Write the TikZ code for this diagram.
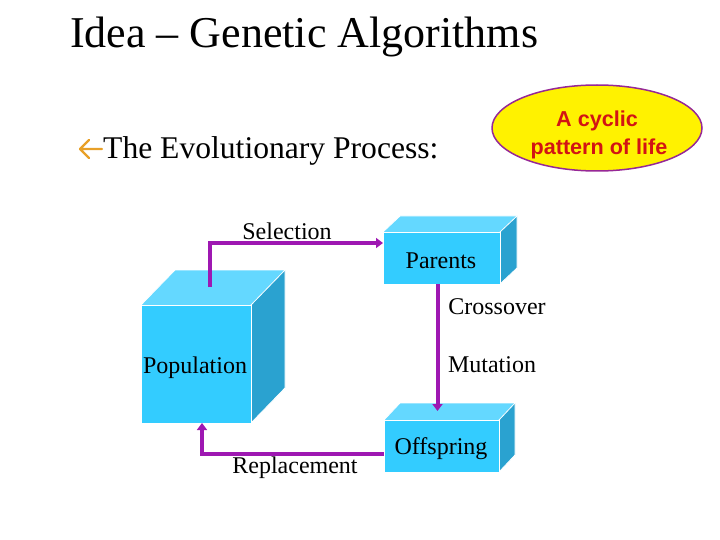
\documentclass[tikz,border=0pt]{standalone}
\usepackage{fontspec}
\setmainfont{Liberation Serif}
\newfontfamily\arialfont{Liberation Sans}
\usetikzlibrary{arrows.meta,shapes.geometric,calc}
\definecolor{frontc}{RGB}{51,204,255}
\definecolor{topc}{RGB}{100,216,255}
\definecolor{sidec}{RGB}{42,162,208}
\definecolor{connc}{RGB}{158,24,178}
\definecolor{bulc}{RGB}{232,160,40}
\definecolor{ellb}{RGB}{150,40,150}
\definecolor{elltxt}{RGB}{210,20,20}
\newcommand{\cubebox}[6]{% x1 y1 x2 y2 dx dy
  \fill[topc] (#1,#2) -- (#1+#5,#2-#6) -- (#3+#5,#2-#6) -- (#3,#2) -- cycle;
  \fill[sidec] (#3,#2) -- (#3+#5,#2-#6) -- (#3+#5,#4-#6) -- (#3,#4) -- cycle;
  \draw[white,line width=0.8pt] (#1,#2) -- (#1+#5,#2-#6) -- (#3+#5,#2-#6) -- (#3+#5,#4-#6) -- (#3,#4);
  \draw[white,line width=0.8pt] (#3,#2) -- (#3+#5,#2-#6);
}
\tikzset{
  front/.style={fill=frontc,draw=white,line width=0.8pt,inner sep=0pt,outer sep=0pt},
  lbl/.style={anchor=base,inner sep=0pt,font=\fontsize{24}{28}\selectfont},
  conn/.style={draw=connc,line width=4pt,-{Triangle[length=7pt,width=10pt]}},
}
\begin{document}
\begin{tikzpicture}[x=1pt,y=-1pt]
\useasboundingbox (0,0) rectangle (720,540);
% title
\node[anchor=base west,inner sep=0pt,font=\fontsize{44}{50}\selectfont] (title) at (70,48) {Idea – Genetic Algorithms};
% bullet
\draw[bulc,line width=2.2pt,line cap=round,line join=round] (80,149) -- (102,149) (89,140) -- (80,149) -- (89,158);
\node[anchor=base west,inner sep=0pt,font=\fontsize{31.6}{36}\selectfont] (proc) at (103,159) {The Evolutionary Process:};
% ellipse
\node[ellipse,draw=ellb,line width=1.5pt,fill=yellow,minimum width=210pt,minimum height=86pt,inner sep=0pt] (ell) at (597,128) {};
\node[anchor=base,inner sep=0pt,text=elltxt,font=\arialfont\bfseries\fontsize{21.6}{24}\selectfont] (ell1) at (597,127) {A cyclic};
\node[anchor=base,inner sep=0pt,text=elltxt,font=\arialfont\bfseries\fontsize{21.6}{24}\selectfont] (ell2) at (599,155) {pattern of life};
% population cube
\cubebox{141}{305}{251}{423}{34}{35}
\node[front,minimum width=110pt,minimum height=118pt] (pop) at (196,364) {};
% parents box
\cubebox{383}{232}{500}{284}{17}{16}
\node[front,minimum width=117pt,minimum height=52pt] (par) at (441.5,258) {};
% offspring box
\cubebox{384}{420}{499}{472}{16}{17}
\node[front,minimum width=115pt,minimum height=52pt] (off) at (441.5,446) {};
% labels
\node[lbl] (tpop) at (195,373) {Population};
\node[lbl] (tpar) at (441,268) {Parents};
\node[lbl] (toff) at (441,454) {Offspring};
\node[lbl] (tsel) at (287,240) {Selection};
\node[lbl] (tcro) at (497,314) {Crossover};
\node[lbl] (tmut) at (492,372) {Mutation};
\node[lbl] (trep) at (295,473) {Replacement};
% connectors
\coordinate (selstart) at ($(pop.north)+(14pt,18pt)$);
\draw[conn] (selstart) |- ([yshift=15pt]par.west);
\coordinate (mutend) at ($(off.north)+(-4pt,9pt)$);
\draw[conn] ([xshift=-4pt]par.south) -- (mutend);
\draw[conn] ([yshift=-8pt]off.west) -| ([xshift=6pt]pop.south);
\end{tikzpicture}
\end{document}
